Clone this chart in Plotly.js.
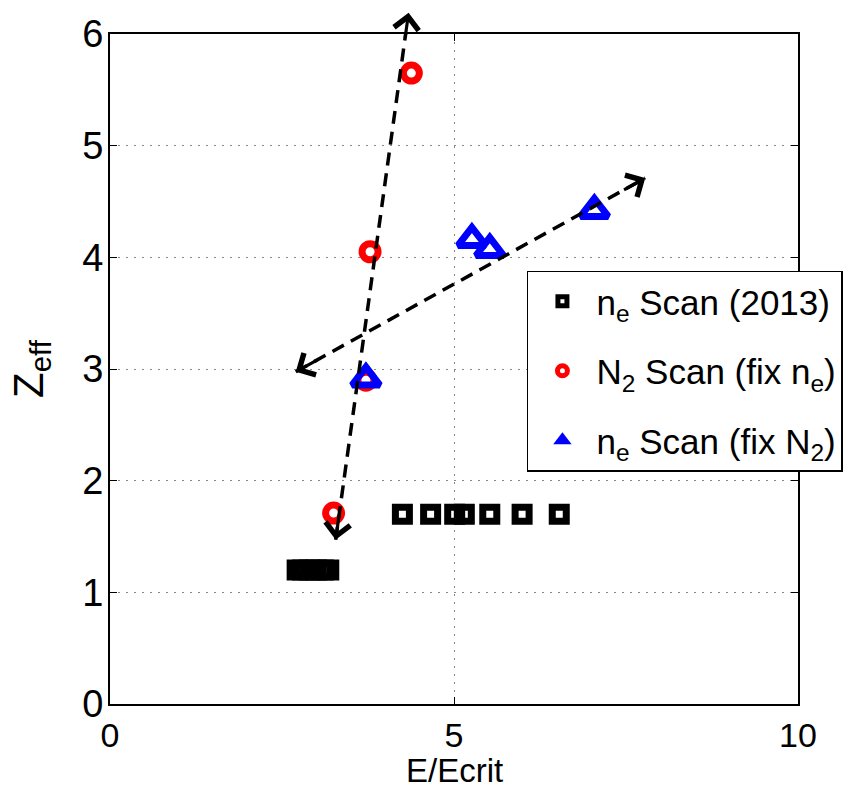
<!DOCTYPE html>
<html>
<head>
<meta charset="utf-8">
<script src="https://cdn.plot.ly/plotly-3.0.1.min.js"></script>
<style>html,body{margin:0;padding:0;background:#fff;}#plot{width:848px;height:792px;}</style>
</head>
<body>
<div id="plot"></div>
<script>
// ---- data ----
const scan2013X = [2.72, 2.80, 2.90, 3.00, 3.10, 3.18, 4.25, 4.66, 5.01, 5.15, 5.52, 5.99, 6.53];
const scan2013Y = [1.20, 1.20, 1.20, 1.20, 1.20, 1.20, 1.70, 1.70, 1.70, 1.70, 1.70, 1.70, 1.70];
const n2ScanX = [4.38, 3.78, 3.72, 3.25];
const n2ScanY = [5.65, 4.05, 2.90, 1.71];
const fixN2X = [5.26, 5.52, 7.04, 3.72];
const fixN2Y = [4.16, 4.07, 4.42, 2.91];
// double-headed trend arrows: [tipA, tipB]
const arrow1X = [3.28, 4.34];
const arrow1Y = [1.47, 6.19];
const arrow2X = [2.70, 7.78];
const arrow2Y = [2.975, 4.71];
const legendNames = [
  'n<sub>e</sub> Scan (2013)',
  'N<sub>2</sub> Scan (fix n<sub>e</sub>)',
  'n<sub>e</sub> Scan (fix N<sub>2</sub>)'
];
const xTitle = 'E/Ecrit';
const yTitle = 'Z<sub>eff</sub>';
const xTicks = [0, 5, 10];
const yTicks = [0, 1, 2, 3, 4, 5, 6];

const FONT = '"Liberation Sans", Arial, Helvetica, sans-serif';

const traces = [
  {x: scan2013X, y: scan2013Y, type: 'scatter', mode: 'markers', showlegend: false,
   marker: {symbol: 'square-open', size: 14, color: '#000', line: {width: 7, color: '#000'}}, cliponaxis: false},
  {x: n2ScanX, y: n2ScanY, type: 'scatter', mode: 'markers', showlegend: false,
   marker: {symbol: 'circle-open', size: 16, color: '#ff0000', line: {width: 7, color: '#ff0000'}}, cliponaxis: false},
  {x: fixN2X, y: fixN2Y, type: 'scatter', mode: 'markers', showlegend: false,
   marker: {symbol: 'triangle-up-open', size: 24, color: '#0000ff', line: {width: 7, color: '#0000ff'}}, cliponaxis: false},
  {x: arrow1X, y: arrow1Y, type: 'scatter', mode: 'lines', showlegend: false, hoverinfo: 'skip',
   line: {color: '#000', width: 3.5, dash: '13px,8px'}},
  {x: arrow2X, y: arrow2Y, type: 'scatter', mode: 'lines', showlegend: false, hoverinfo: 'skip',
   line: {color: '#000', width: 3.5, dash: '13px,8px'}},
  // legend entries (styled like the reference legend keys)
  {x: [null], y: [null], type: 'scatter', mode: 'markers', name: legendNames[0], legendgroup: 'a',
   marker: {symbol: 'square-open', size: 9, color: '#000', line: {width: 5, color: '#000'}}},
  {x: [null], y: [null], type: 'scatter', mode: 'markers', name: legendNames[1], legendgroup: 'b',
   marker: {symbol: 'circle-open', size: 10, color: '#ff0000', line: {width: 5, color: '#ff0000'}}},
  {x: [null], y: [null], type: 'scatter', mode: 'markers', name: legendNames[2], legendgroup: 'c',
   marker: {symbol: 'triangle-up', size: 16, color: '#0000ff', line: {width: 0}}}
];

function heads(xs, ys, frac) {
  const out = [];
  for (let i = 0; i < 2; i++) {
    const j = 1 - i;
    out.push({
      x: xs[i], y: ys[i], xref: 'x', yref: 'y',
      ax: xs[i] + (xs[j] - xs[i]) * frac, ay: ys[i] + (ys[j] - ys[i]) * frac,
      axref: 'x', ayref: 'y', text: '', showarrow: true,
      arrowhead: 4, arrowsize: 1.5, arrowwidth: 3.2, arrowcolor: '#000', standoff: 0, startstandoff: 0
    });
  }
  return out;
}

const annotations = heads(arrow1X, arrow1Y, 0.05).concat(heads(arrow2X, arrow2Y, 0.065));
// x-axis title placed precisely below the tick labels
annotations.push({
  text: xTitle, xref: 'paper', yref: 'paper', x: 0.5, y: -88 / 670,
  xanchor: 'center', yanchor: 'bottom', yshift: 1, showarrow: false,
  font: {family: FONT, size: 33, color: '#000'}
});

const layout = {
  width: 848, height: 792,
  paper_bgcolor: '#fff', plot_bgcolor: '#fff',
  margin: {l: 110, r: 50, t: 34, b: 88, autoexpand: false},
  font: {family: FONT, color: '#000', size: 32},
  showlegend: true,
  legend: {
    x: 0.606, y: 0.647, xanchor: 'left', yanchor: 'top',
    bgcolor: '#fff', bordercolor: '#000', borderwidth: 1.5,
    font: {family: FONT, size: 35, color: '#000'},
    itemwidth: 58, traceorder: 'grouped', tracegroupgap: 21
  },
  xaxis: {
    range: [0, 10], tickvals: xTicks, ticktext: xTicks.map(String),
    showgrid: true, gridcolor: '#888', griddash: '2px,6px', gridwidth: 1,
    zeroline: false, showline: true, linecolor: '#000', linewidth: 2, mirror: 'ticks',
    ticks: 'inside', ticklen: 7, tickcolor: '#000', tickwidth: 1,
    tickfont: {family: FONT, size: 34, color: '#000'}
  },
  yaxis: {
    range: [0, 6], tickvals: yTicks, ticktext: yTicks.map(String),
    showgrid: true, gridcolor: '#888', griddash: '2px,6px', gridwidth: 1,
    zeroline: false, showline: true, linecolor: '#000', linewidth: 2, mirror: 'ticks',
    ticks: 'inside', ticklen: 7, tickcolor: '#000', tickwidth: 1,
    ticklabelstandoff: -3,
    tickfont: {family: FONT, size: 38, color: '#000'},
    title: {text: yTitle, font: {family: FONT, size: 42, color: '#000'}, standoff: 26}
  },
  annotations: annotations
};

Plotly.newPlot('plot', traces, layout, {displayModeBar: false, staticPlot: true});
</script>
</body>
</html>
